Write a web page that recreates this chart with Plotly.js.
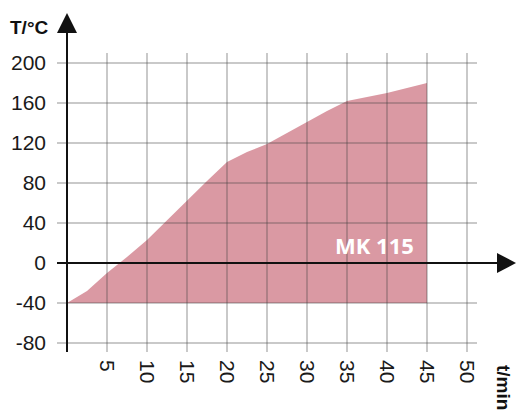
<!DOCTYPE html>
<html>
<head>
<meta charset="utf-8">
<script src="https://cdn.plot.ly/plotly-3.0.1.min.js"></script>
<style>html,body{margin:0;padding:0;background:#fff;}#chart{width:517px;height:416px;}</style>
</head>
<body>
<div id="chart"></div>
<script>
// Heating curve
var timeMin = [0, 2.5, 5, 7.5, 10, 12.5, 15, 17.5, 20, 22.5, 25, 27.5, 30, 32.5, 35, 37.5, 40, 42.5, 45];
var tempC   = [-40, -28, -10, 6, 23, 43, 63, 82, 101, 111, 119, 130, 141, 152, 162, 166, 170, 175, 180];
var baseTime = [0, 45];
var baseTemp = [-40, -40];
var xTickVals = [5, 10, 15, 20, 25, 30, 35, 40, 45, 50];
var xTickText = ['5', '10', '15', '20', '25', '30', '35', '40', '45', '50'];
var yTickVals = [-80, -40, 0, 40, 80, 120, 160, 200];
var yTickText = ['-80', '-40', '0', '40', '80', '120', '160', '200'];
var seriesLabel = 'MK 115';

var xr = [-1.25, 51.25];
var yr = [-89, 210];
var M = {l: 57, r: 40, t: 53, b: 64};
var W = 517, H = 416;
var pw = W - M.l - M.r, ph = H - M.t - M.b;
function pxX(px) { return (px - M.l) / pw; }
function pxY(py) { return (H - M.b - py) / ph; }
function dX(v) { return (v - xr[0]) / (xr[1] - xr[0]); }
function dY(v) { return (v - yr[0]) / (yr[1] - yr[0]); }

// area polygon: curve, then the -40 °C base back to the start
var areaX = timeMin.concat(baseTime.slice().reverse());
var areaY = tempC.concat(baseTemp.slice().reverse());

// grid lines from the tick arrays, drawn above the translucent area
var gx = [], gy = [];
xTickVals.forEach(function (v) { gx.push(v, v, null); gy.push(yr[0], yr[1], null); });
yTickVals.forEach(function (v) { gx.push(xr[0], xr[1], null); gy.push(v, v, null); });

var traces = [
  {x: areaX, y: areaY, mode: 'lines', fill: 'toself', fillcolor: 'rgba(182,52,72,0.5)', line: {width: 0, color: 'rgba(0,0,0,0)'}, hoverinfo: 'skip', showlegend: false},
  {x: gx, y: gy, mode: 'lines', connectgaps: false, line: {color: 'rgba(60,60,60,0.28)', width: 2}, hoverinfo: 'skip', showlegend: false}
];

var ax0 = dX(0), ay0 = dY(0);
var shapes = [
  {type: 'line', xref: 'paper', yref: 'paper', x0: ax0, x1: ax0, y0: 0, y1: pxY(30), line: {color: '#111', width: 2}, layer: 'above'},
  {type: 'path', xref: 'paper', yref: 'paper', path: 'M ' + pxX(57) + ' ' + pxY(33) + ' L ' + pxX(77) + ' ' + pxY(33) + ' L ' + ax0 + ' ' + pxY(13) + ' Z', fillcolor: '#111', line: {width: 0}, layer: 'above'},
  {type: 'line', xref: 'paper', yref: 'paper', x0: 0, x1: pxX(500), y0: ay0, y1: ay0, line: {color: '#111', width: 2}, layer: 'above'},
  {type: 'path', xref: 'paper', yref: 'paper', path: 'M ' + pxX(497) + ' ' + (ay0 + 10 / ph) + ' L ' + pxX(497) + ' ' + (ay0 - 10 / ph) + ' L ' + pxX(516) + ' ' + ay0 + ' Z', fillcolor: '#111', line: {width: 0}, layer: 'above'}
];

var layout = {
  width: W, height: H,
  margin: M,
  paper_bgcolor: '#fff', plot_bgcolor: '#fff',
  showlegend: false,
  font: {family: 'Liberation Sans, Arial, sans-serif', color: '#1a1a1a', size: 21},
  xaxis: {
    range: xr, tickmode: 'array', tickvals: xTickVals, ticktext: xTickText,
    tickangle: 90, showgrid: false,
    zeroline: false, showline: false, ticks: '', ticklabelstandoff: 7,
    tickfont: {size: 21, color: '#1a1a1a'}, fixedrange: true
  },
  yaxis: {
    range: yr, tickmode: 'array', tickvals: yTickVals, ticktext: yTickText,
    showgrid: false,
    zeroline: false, showline: false, ticks: '', ticklabelstandoff: 10,
    tickfont: {size: 21, color: '#1a1a1a'}, fixedrange: true
  },
  shapes: shapes,
  annotations: [
    {text: 'T/°C', xref: 'paper', yref: 'paper', x: pxX(8), y: pxY(27), xanchor: 'left', yanchor: 'middle', showarrow: false,
     font: {family: 'Liberation Sans, Arial, sans-serif', size: 19, color: '#111', weight: 'bold'}},
    {text: 't/min', xref: 'paper', yref: 'paper', x: pxX(504), y: pxY(387), xanchor: 'center', yanchor: 'middle', textangle: 90, showarrow: false,
     font: {family: 'Liberation Sans, Arial, sans-serif', size: 19, color: '#111', weight: 'bold'}},
    {text: seriesLabel, xref: 'x', yref: 'y', x: 38.4, y: 18, xanchor: 'center', yanchor: 'middle', showarrow: false,
     font: {family: 'Open Sans, sans-serif', size: 22, color: '#ffffff', weight: 'bold'}}
  ]
};

Plotly.newPlot('chart', traces, layout, {displayModeBar: false, staticPlot: true});
</script>
</body>
</html>
